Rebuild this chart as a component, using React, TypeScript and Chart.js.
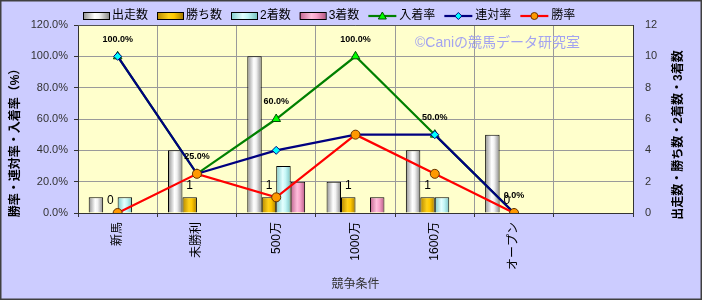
import { useEffect, useRef } from 'react';
import { Chart, registerables } from 'chart.js';

Chart.register(...registerables);

// ---- data ----
const categories = ['新馬', '未勝利', '500万', '1000万', '1600万', 'オープン', ''];
const barNames = ['出走数', '勝ち数', '2着数', '3着数'];
const lineNames = ['入着率', '連対率', '勝率'];
const starts = [1, 4, 10, 2, 4, 5];
const wins = [0, 1, 1, 1, 1, 0];
const seconds = [1, 0, 3, 0, 1, 0];
const thirds = [0, 0, 2, 1, 0, 0];
const placeRate = [100, 25, 60, 100, 50, 0];
const rentaiRate = [100, 25, 40, 50, 50, 0];
const winRate = [0, 25, 10, 50, 25, 0];
const rateAxis = { min: 0, max: 120, step: 20 };
const countAxis = { min: 0, max: 12, step: 2 };
const leftTitle = '勝率・連対率・入着率（%）';
const rightTitle = '出走数・勝ち数・2着数・3着数';
const xTitle = '競争条件';
const watermark = '©Caniの競馬データ研究室';

// ---- styles ----
const SANS = '"Liberation Sans", "Noto Sans CJK JP", sans-serif';
const CAT_PCT = 0.73;
type Stops = [number, string][];
const GREY: Stops = [[0, '#8e8e8e'], [0.45, '#ffffff'], [0.62, '#f2f2f2'], [1, '#8a8a8a']];
const GOLD: Stops = [[0, '#b58700'], [0.45, '#ffd21a'], [0.65, '#ffc800'], [1, '#a97e00']];
const CYAN: Stops = [[0, '#7fcaca'], [0.45, '#e4ffff'], [0.65, '#c4f6f6'], [1, '#78c2c2']];
const PINK: Stops = [[0, '#c0628e'], [0.45, '#ffbedb'], [0.65, '#f7a2c9'], [1, '#b85a86']];
const barStops = [GREY, GOLD, CYAN, PINK];

const lineStyles = [
  { color: '#008000', fill: '#00ff00', pbd: '#005000', style: 'triangle', r: 5 },
  { color: '#000080', fill: '#00ffff', pbd: '#000080', style: 'rectRot', r: 4 },
  { color: '#ff0000', fill: '#ff9900', pbd: '#663300', style: 'circle', r: 4.5 },
];

function makeGrad(ctx: CanvasRenderingContext2D, x0: number, x1: number, stops: Stops) {
  const g = ctx.createLinearGradient(x0, 0, x1, 0);
  stops.forEach(([o, c]) => g.addColorStop(o, c));
  return g;
}

function barBg(bi: number) {
  return (c: any) => {
    const chart = c.chart;
    const xs = chart.scales && chart.scales.x;
    if (!xs || c.type !== 'data' || !isFinite(xs.width)) return barStops[bi][1][1];
    const slot = xs.width / categories.length;
    const bw = (slot * CAT_PCT) / barNames.length;
    const center = xs.getPixelForValue(c.dataIndex);
    const left = center - (bw * barNames.length) / 2 + bi * bw;
    return makeGrad(chart.ctx, left, left + bw, barStops[bi]);
  };
}

const barData = [starts, wins, seconds, thirds];
const lineData = [placeRate, rentaiRate, winRate];

const datasets: any[] = [
  ...barData.map((d, i) => ({
    type: 'bar',
    label: barNames[i],
    data: d,
    yAxisID: 'y1',
    backgroundColor: barBg(i),
    borderColor: '#000000',
    borderWidth: (c: any) => (c.raw === 0 ? 0 : 1),
    categoryPercentage: CAT_PCT,
    barPercentage: 1,
    order: 10,
  })),
  ...lineData.map((d, i) => ({
    type: 'line',
    label: lineNames[i],
    data: d,
    yAxisID: 'y',
    borderColor: lineStyles[i].color,
    borderWidth: 2.2,
    pointStyle: lineStyles[i].style,
    pointRadius: lineStyles[i].r,
    pointBackgroundColor: lineStyles[i].fill,
    pointBorderColor: lineStyles[i].pbd,
    pointBorderWidth: 1,
    tension: 0,
    order: 3 - i,
  })),
];

const decor = {
  id: 'decor',
  beforeDraw(chart: any) {
    const { ctx, chartArea: a, width, height } = chart;
    ctx.save();
    ctx.fillStyle = '#ffffff';
    ctx.fillRect(0, 0, width, height);
    ctx.fillStyle = '#ccccff';
    ctx.fillRect(0, 0, 702, 300);
    ctx.strokeStyle = '#404040';
    ctx.lineWidth = 1.5;
    ctx.strokeRect(0.75, 0.75, 700.5, 298.5);
    ctx.fillStyle = '#ffffcc';
    ctx.fillRect(a.left, a.top, a.right - a.left, a.bottom - a.top);
    ctx.restore();
  },
  afterDatasetsDraw(chart: any) {
    const { ctx, chartArea: a } = chart;
    ctx.save();
    // plot border top
    ctx.strokeStyle = '#555';
    ctx.lineWidth = 1;
    ctx.beginPath();
    ctx.moveTo(a.left, a.top + 0.5);
    ctx.lineTo(a.right, a.top + 0.5);
    ctx.stroke();
    // rate labels (入着率)
    ctx.fillStyle = '#000';
    ctx.textAlign = 'center';
    ctx.textBaseline = 'middle';
    ctx.font = 'bold 9px ' + SANS;
    const pm = chart.getDatasetMeta(4);
    pm.data.forEach((p: any, i: number) => {
      ctx.fillText(placeRate[i].toFixed(1) + '%', p.x, p.y - 17);
    });
    // win count labels
    ctx.font = '12px ' + SANS;
    const wm = chart.getDatasetMeta(1);
    wm.data.forEach((b: any, i: number) => {
      ctx.fillText(String(wins[i]), b.x, b.y - 12);
    });
    ctx.restore();
  },
  afterDraw(chart: any) {
    const { ctx, chartArea: a } = chart;
    ctx.save();
    // watermark
    ctx.fillStyle = '#a3a3f0';
    ctx.font = '14px ' + SANS;
    ctx.textAlign = 'left';
    ctx.textBaseline = 'middle';
    ctx.fillText(watermark, 415, 43);
    // axis titles
    ctx.fillStyle = '#000';
    ctx.font = 'bold 12px ' + SANS;
    ctx.textAlign = 'center';
    ctx.save();
    ctx.translate(16, 140);
    ctx.rotate(-Math.PI / 2);
    ctx.fillText(leftTitle, 0, 0);
    ctx.restore();
    ctx.save();
    ctx.translate(679, 135);
    ctx.rotate(-Math.PI / 2);
    ctx.fillText(rightTitle, 0, 0);
    ctx.restore();
    ctx.fillStyle = '#333';
    ctx.font = '12px ' + SANS;
    ctx.fillText(xTitle, (a.left + a.right) / 2, 285);
    // legend
    let x = 83;
    const y = 16;
    ctx.textAlign = 'left';
    ctx.lineWidth = 1;
    barNames.forEach((name, i) => {
      ctx.fillStyle = makeGrad(ctx, x, x + 26, barStops[i]);
      ctx.fillRect(x, y - 3, 26, 6);
      ctx.strokeStyle = '#000';
      ctx.strokeRect(x + 0.5, y - 3.5, 26, 7);
      ctx.fillStyle = '#000';
      ctx.fillText(name, x + 29, y);
      x += 29 + ctx.measureText(name).width + 9;
    });
    lineNames.forEach((name, i) => {
      const s = lineStyles[i];
      ctx.strokeStyle = s.color;
      ctx.lineWidth = 2.2;
      ctx.beginPath();
      ctx.moveTo(x, y);
      ctx.lineTo(x + 28, y);
      ctx.stroke();
      ctx.lineWidth = 1;
      ctx.fillStyle = s.fill;
      ctx.strokeStyle = s.pbd;
      const cx = x + 14;
      ctx.beginPath();
      if (s.style === 'triangle') {
        ctx.moveTo(cx, y - 4);
        ctx.lineTo(cx + 4, y + 3);
        ctx.lineTo(cx - 4, y + 3);
        ctx.closePath();
      } else if (s.style === 'rectRot') {
        ctx.moveTo(cx, y - 3.5);
        ctx.lineTo(cx + 3.5, y);
        ctx.lineTo(cx, y + 3.5);
        ctx.lineTo(cx - 3.5, y);
        ctx.closePath();
      } else {
        ctx.arc(cx, y, 3.5, 0, Math.PI * 2);
      }
      ctx.fill();
      ctx.stroke();
      ctx.fillStyle = '#000';
      ctx.fillText(name, x + 31, y);
      x += 31 + ctx.measureText(name).width + 9;
    });
    ctx.restore();
  },
};

export default function App() {
  const ref = useRef<HTMLCanvasElement>(null);
  useEffect(() => {
    const canvas = ref.current;
    if (!canvas) return;
    const chart = new Chart(canvas, {
      type: 'bar',
      data: { labels: categories, datasets },
      options: {
        animation: false,
        responsive: false,
        devicePixelRatio: 1,
        layout: { padding: { top: 25, left: 0, right: 0, bottom: 0 } },
        plugins: { legend: { display: false }, title: { display: false }, tooltip: { enabled: false } },
        scales: {
          x: {
            offset: true,
            afterFit: (s: any) => { s.height = 88; },
            grid: {
              offset: true,
              color: '#9a9a9a',
              borderDash: [2, 2],
              tickBorderDash: [],
              tickColor: '#333',
              tickLength: 4,
              drawTicks: true,
            },
            border: { color: '#333', width: 1 },
            ticks: {
              autoSkip: false,
              maxRotation: 90,
              minRotation: 90,
              padding: 5,
              color: '#000',
              font: { family: SANS, size: 12 },
            },
          },
          y: {
            position: 'left',
            min: rateAxis.min,
            max: rateAxis.max,
            afterFit: (s: any) => { s.width = 78; },
            grid: {
              color: '#9a9a9a',
              borderDash: [2, 2],
              tickBorderDash: [],
              tickColor: '#333',
              tickLength: 4,
            },
            border: { color: '#333', width: 1 },
            ticks: {
              stepSize: rateAxis.step,
              padding: 6,
              color: '#333',
              font: { family: SANS, size: 11 },
              callback: (v: any) => Number(v).toFixed(1) + '%',
            },
          },
          y1: {
            position: 'right',
            min: countAxis.min,
            max: countAxis.max,
            afterFit: (s: any) => { s.width = 70; },
            grid: { drawOnChartArea: false, drawTicks: false },
            border: { color: '#333', width: 1 },
            ticks: {
              stepSize: countAxis.step,
              padding: 12,
              color: '#333',
              font: { family: SANS, size: 11 },
            },
          },
        },
      } as any,
      plugins: [decor],
    });
    return () => chart.destroy();
  }, []);
  return (
    <div style={{ position: 'fixed', left: 0, top: 0, width: 703, height: 301 }}>
      <canvas ref={ref} width={703} height={301} style={{ display: 'block' }} />
    </div>
  );
}
